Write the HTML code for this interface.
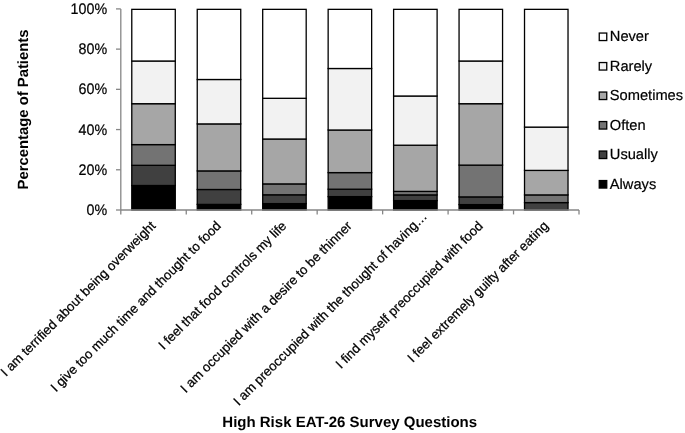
<!DOCTYPE html>
<html><head><meta charset="utf-8"><style>
html,body{margin:0;padding:0;background:#fff;}
body{width:685px;height:433px;overflow:hidden;font-family:"Liberation Sans",sans-serif;}
svg{display:block;filter:grayscale(1);text-rendering:geometricPrecision;}
</style></head><body>
<svg width="685" height="433" viewBox="0 0 685 433">
<rect x="0" y="0" width="685" height="433" fill="#fff"/>
<rect x="131.78" y="185.50" width="43.50" height="24.50" fill="#000000" stroke="#000" stroke-width="1.3"/>
<rect x="131.78" y="165.30" width="43.50" height="20.20" fill="#404040" stroke="#000" stroke-width="1.3"/>
<rect x="131.78" y="144.60" width="43.50" height="20.70" fill="#737373" stroke="#000" stroke-width="1.3"/>
<rect x="131.78" y="103.70" width="43.50" height="40.90" fill="#a6a6a6" stroke="#000" stroke-width="1.3"/>
<rect x="131.78" y="61.00" width="43.50" height="42.70" fill="#f2f2f2" stroke="#000" stroke-width="1.3"/>
<rect x="131.78" y="9.35" width="43.50" height="51.65" fill="#ffffff" stroke="#000" stroke-width="1.3"/>
<rect x="197.24" y="204.40" width="43.50" height="5.60" fill="#000000" stroke="#000" stroke-width="1.3"/>
<rect x="197.24" y="189.50" width="43.50" height="14.90" fill="#404040" stroke="#000" stroke-width="1.3"/>
<rect x="197.24" y="170.90" width="43.50" height="18.60" fill="#737373" stroke="#000" stroke-width="1.3"/>
<rect x="197.24" y="123.90" width="43.50" height="47.00" fill="#a6a6a6" stroke="#000" stroke-width="1.3"/>
<rect x="197.24" y="79.50" width="43.50" height="44.40" fill="#f2f2f2" stroke="#000" stroke-width="1.3"/>
<rect x="197.24" y="9.35" width="43.50" height="70.15" fill="#ffffff" stroke="#000" stroke-width="1.3"/>
<rect x="262.69" y="203.60" width="43.50" height="6.40" fill="#000000" stroke="#000" stroke-width="1.3"/>
<rect x="262.69" y="194.80" width="43.50" height="8.80" fill="#404040" stroke="#000" stroke-width="1.3"/>
<rect x="262.69" y="183.90" width="43.50" height="10.90" fill="#737373" stroke="#000" stroke-width="1.3"/>
<rect x="262.69" y="139.00" width="43.50" height="44.90" fill="#a6a6a6" stroke="#000" stroke-width="1.3"/>
<rect x="262.69" y="98.30" width="43.50" height="40.70" fill="#f2f2f2" stroke="#000" stroke-width="1.3"/>
<rect x="262.69" y="9.35" width="43.50" height="88.95" fill="#ffffff" stroke="#000" stroke-width="1.3"/>
<rect x="328.15" y="196.60" width="43.50" height="13.40" fill="#000000" stroke="#000" stroke-width="1.3"/>
<rect x="328.15" y="189.20" width="43.50" height="7.40" fill="#404040" stroke="#000" stroke-width="1.3"/>
<rect x="328.15" y="172.60" width="43.50" height="16.60" fill="#737373" stroke="#000" stroke-width="1.3"/>
<rect x="328.15" y="130.00" width="43.50" height="42.60" fill="#a6a6a6" stroke="#000" stroke-width="1.3"/>
<rect x="328.15" y="68.50" width="43.50" height="61.50" fill="#f2f2f2" stroke="#000" stroke-width="1.3"/>
<rect x="328.15" y="9.35" width="43.50" height="59.15" fill="#ffffff" stroke="#000" stroke-width="1.3"/>
<rect x="393.61" y="200.60" width="43.50" height="9.40" fill="#000000" stroke="#000" stroke-width="1.3"/>
<rect x="393.61" y="194.90" width="43.50" height="5.70" fill="#404040" stroke="#000" stroke-width="1.3"/>
<rect x="393.61" y="191.40" width="43.50" height="3.50" fill="#737373" stroke="#000" stroke-width="1.3"/>
<rect x="393.61" y="145.20" width="43.50" height="46.20" fill="#a6a6a6" stroke="#000" stroke-width="1.3"/>
<rect x="393.61" y="96.00" width="43.50" height="49.20" fill="#f2f2f2" stroke="#000" stroke-width="1.3"/>
<rect x="393.61" y="9.35" width="43.50" height="86.65" fill="#ffffff" stroke="#000" stroke-width="1.3"/>
<rect x="459.06" y="204.60" width="43.50" height="5.40" fill="#000000" stroke="#000" stroke-width="1.3"/>
<rect x="459.06" y="196.90" width="43.50" height="7.70" fill="#404040" stroke="#000" stroke-width="1.3"/>
<rect x="459.06" y="165.10" width="43.50" height="31.80" fill="#737373" stroke="#000" stroke-width="1.3"/>
<rect x="459.06" y="103.70" width="43.50" height="61.40" fill="#a6a6a6" stroke="#000" stroke-width="1.3"/>
<rect x="459.06" y="61.00" width="43.50" height="42.70" fill="#f2f2f2" stroke="#000" stroke-width="1.3"/>
<rect x="459.06" y="9.35" width="43.50" height="51.65" fill="#ffffff" stroke="#000" stroke-width="1.3"/>
<rect x="524.52" y="202.60" width="43.50" height="7.40" fill="#404040" stroke="#000" stroke-width="1.3"/>
<rect x="524.52" y="194.90" width="43.50" height="7.70" fill="#737373" stroke="#000" stroke-width="1.3"/>
<rect x="524.52" y="170.40" width="43.50" height="24.50" fill="#a6a6a6" stroke="#000" stroke-width="1.3"/>
<rect x="524.52" y="127.10" width="43.50" height="43.30" fill="#f2f2f2" stroke="#000" stroke-width="1.3"/>
<rect x="524.52" y="9.35" width="43.50" height="117.75" fill="#ffffff" stroke="#000" stroke-width="1.3"/>
<g stroke="#868686" stroke-width="1.3" fill="none">
<line x1="120.8" y1="8.9" x2="120.8" y2="210.0"/>
<line x1="120.8" y1="210.0" x2="579.0" y2="210.0"/>
<line x1="116" y1="210.00" x2="120.8" y2="210.00"/>
<line x1="116" y1="169.78" x2="120.8" y2="169.78"/>
<line x1="116" y1="129.56" x2="120.8" y2="129.56"/>
<line x1="116" y1="89.34" x2="120.8" y2="89.34"/>
<line x1="116" y1="49.12" x2="120.8" y2="49.12"/>
<line x1="116" y1="8.90" x2="120.8" y2="8.90"/>
<line x1="120.80" y1="210.0" x2="120.80" y2="214.4"/>
<line x1="186.26" y1="210.0" x2="186.26" y2="214.4"/>
<line x1="251.71" y1="210.0" x2="251.71" y2="214.4"/>
<line x1="317.17" y1="210.0" x2="317.17" y2="214.4"/>
<line x1="382.63" y1="210.0" x2="382.63" y2="214.4"/>
<line x1="448.09" y1="210.0" x2="448.09" y2="214.4"/>
<line x1="513.54" y1="210.0" x2="513.54" y2="214.4"/>
<line x1="579.00" y1="210.0" x2="579.00" y2="214.4"/>
</g>
<g font-family="Liberation Sans" font-size="14.3" fill="#000" stroke="#000" stroke-width="0.2" text-anchor="end">
<text transform="translate(107.2,215.00) scale(1,1.07)">0%</text>
<text transform="translate(107.2,174.78) scale(1,1.07)">20%</text>
<text transform="translate(107.2,134.56) scale(1,1.07)">40%</text>
<text transform="translate(107.2,94.34) scale(1,1.07)">60%</text>
<text transform="translate(107.2,54.12) scale(1,1.07)">80%</text>
<text transform="translate(107.2,13.90) scale(1,1.07)">100%</text>
</g>
<g font-family="Liberation Sans" font-size="13.15" fill="#000" stroke="#000" stroke-width="0.25" text-anchor="end">
<text transform="translate(156.33,226.70) rotate(-45)">I am terrified about being overweight</text>
<text transform="translate(221.79,226.70) rotate(-45)">I give too much time and thought to food</text>
<text transform="translate(287.24,226.70) rotate(-45)">I feel that food controls my life</text>
<text transform="translate(352.70,226.70) rotate(-45)">I am occupied with a desire to be thinner</text>
<text transform="translate(427.76,217.10) rotate(-45)">I am preoccupied with the thought of having…</text>
<text transform="translate(483.61,226.70) rotate(-45)">I find myself preoccupied with food</text>
<text transform="translate(549.07,226.70) rotate(-45)">I feel extremely guilty after eating</text>
</g>
<text x="349.7" y="426.9" font-family="Liberation Sans" font-weight="bold" font-size="15" text-anchor="middle">High Risk EAT-26 Survey Questions</text>
<text transform="translate(28.1,109.45) rotate(-90)" font-family="Liberation Sans" font-weight="bold" font-size="14.83" text-anchor="middle">Percentage of Patients</text>
<g font-family="Liberation Sans" font-size="14.67" fill="#000" stroke="#000" stroke-width="0.2">
<rect x="599.25" y="33.05" width="7.5" height="7.5" fill="#ffffff" stroke="#000" stroke-width="1.3"/>
<text x="609.8" y="41.20">Never</text>
<rect x="599.25" y="62.55" width="7.5" height="7.5" fill="#f2f2f2" stroke="#000" stroke-width="1.3"/>
<text x="609.8" y="70.70">Rarely</text>
<rect x="599.25" y="92.05" width="7.5" height="7.5" fill="#a6a6a6" stroke="#000" stroke-width="1.3"/>
<text x="609.8" y="100.20">Sometimes</text>
<rect x="599.25" y="121.55" width="7.5" height="7.5" fill="#737373" stroke="#000" stroke-width="1.3"/>
<text x="609.8" y="129.70">Often</text>
<rect x="599.25" y="151.05" width="7.5" height="7.5" fill="#404040" stroke="#000" stroke-width="1.3"/>
<text x="609.8" y="159.20">Usually</text>
<rect x="599.25" y="180.55" width="7.5" height="7.5" fill="#000000" stroke="#000" stroke-width="1.3"/>
<text x="609.8" y="188.70">Always</text>
</g>
</svg>
</body></html>
